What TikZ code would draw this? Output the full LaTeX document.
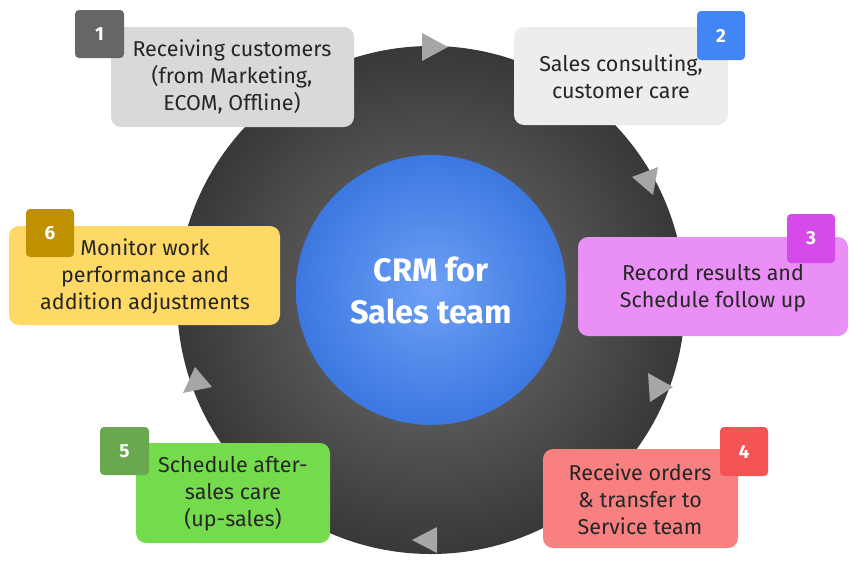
\documentclass[tikz,border=0pt]{standalone}
\usepackage{fontspec}
\setmainfont{Fira Sans}
\definecolor{bluein}{RGB}{110,160,245}
\definecolor{blueout}{RGB}{60,120,225}
\definecolor{c3}{RGB}{234,143,245}
\definecolor{c4}{RGB}{248,128,128}
\definecolor{c5}{RGB}{116,219,77}
\definecolor{c6}{RGB}{255,217,102}
\definecolor{d2}{RGB}{66,133,244}
\definecolor{d3}{RGB}{213,74,232}
\definecolor{d4}{RGB}{244,84,84}
\definecolor{d5}{RGB}{106,168,79}
\definecolor{d6}{RGB}{191,144,0}
\begin{document}
\begin{tikzpicture}[x=1pt,y=-1pt,
 box/.style={inner sep=0pt,align=center,font=\fontsize{21.5}{27}\selectfont\color{black!85}},
 badge/.style={text=white,font=\fontsize{19}{20}\selectfont\bfseries},
 tri/.style={fill=black!35}]
\useasboundingbox (0,0) rectangle (860,565);
\shade[inner color=black!55,outer color=black!78] (431,300) circle (254);
\shade[inner color=bluein,outer color=blueout] (431,290) circle (135);
\node[font=\fontsize{32.5}{42}\selectfont\bfseries,text=white,align=center] (c) at (431,290) {CRM for\\Sales team};
\fill[tri] (422,33) -- (448,47) -- (422,61) -- cycle;
\fill[tri] (632,177) -- (658,167) -- (653,195) -- cycle;
\fill[tri] (648,373) -- (673,387) -- (650,402) -- cycle;
\fill[tri] (412,540) -- (437,527) -- (437,553) -- cycle;
\fill[tri] (183,393) -- (195,367) -- (212,387) -- cycle;
% boxes
\fill[rounded corners=10pt,black!15] (111,27) rectangle (354,127);
\node[box] (t1) at (232,77) {Receiving customers\\(from Marketing,\\ECOM, Offline)};
\fill[rounded corners=10pt,black!7] (514,27) rectangle (728,125);
\node[box] (t2) at (621,77) {Sales consulting,\\customer care};
\fill[rounded corners=10pt,c3] (578,237) rectangle (848,336);
\node[box] (t3) at (713,288) {Record results and\\Schedule follow up};
\fill[rounded corners=10pt,c4] (543,449) rectangle (738,548);
\node[box] (t4) at (640,499) {Receive orders\\\& transfer to\\Service team};
\fill[rounded corners=10pt,c5] (136,443) rectangle (330,543);
\node[box] (t5) at (233,494) {Schedule after-\\sales care\\(up-sales)};
\fill[rounded corners=10pt,c6] (9,226) rectangle (280,325);
\node[box] (t6) at (145,276) {Monitor work\\performance and\\addition adjustments};
% badges
\fill[rounded corners=4pt,black!60] (75,10) rectangle (124,58); \node[badge] (b1) at (99.5,34) {1};
\fill[rounded corners=4pt,d2] (697,11) rectangle (745,60); \node[badge] (b2) at (721,35.5) {2};
\fill[rounded corners=4pt,d3] (787,214) rectangle (835,263); \node[badge] (b3) at (811,238.5) {3};
\fill[rounded corners=4pt,d4] (720,427) rectangle (768,476); \node[badge] (b4) at (744,451.5) {4};
\fill[rounded corners=4pt,d5] (100,427) rectangle (149,475); \node[badge] (b5) at (124.5,451) {5};
\fill[rounded corners=4pt,d6] (26,209) rectangle (74,257); \node[badge] (b6) at (50,233) {6};
\end{tikzpicture}
\end{document}
